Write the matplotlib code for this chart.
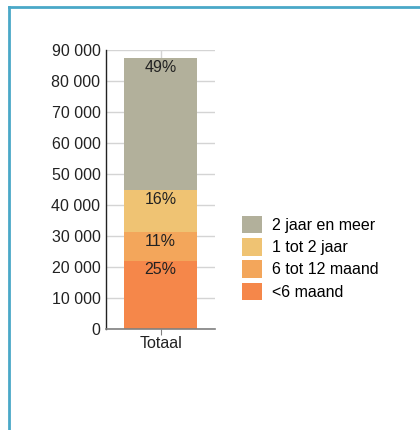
import matplotlib.pyplot as plt
from matplotlib.lines import Line2D
from matplotlib.patches import Patch
from matplotlib.ticker import FuncFormatter

plt.rcParams['font.family'] = ['Liberation Sans', 'DejaVu Sans']

# data
category = 'Totaal'
groups = ['<6 maand', '6 tot 12 maand', '1 tot 2 jaar', '2 jaar en meer']
values = [21900, 9300, 13600, 42500]
colors = ['#f5874a', '#f3a65b', '#efc373', '#b2b09b']
yticks = [0, 10000, 20000, 30000, 40000, 50000, 60000, 70000, 80000, 90000]

total = sum(values)

fig = plt.figure(figsize=(4.2, 4.3), dpi=100)
ax = fig.add_axes([106 / 420, 1 - 329 / 430, 109 / 420, 279 / 430])

bottom = 0
for val, col in zip(values, colors):
    ax.bar(0, val, bottom=bottom, width=0.67, color=col, zorder=2)
    top = bottom + val
    ax.annotate(f'{round(100 * val / total)}%', (0, top), xytext=(0, -1),
                textcoords='offset points', ha='center', va='top',
                fontsize=11.5, color='#222222', zorder=3)
    bottom = top

ax.set_xlim(-0.5, 0.5)
ax.set_ylim(0, 90000)
ax.set_yticks(yticks)
ax.yaxis.set_major_formatter(FuncFormatter(lambda v, p: f'{int(v):,}'.replace(',', ' ')))
ax.set_xticks([0])
ax.set_xticklabels([category])
ax.tick_params(axis='y', length=0, pad=4, labelsize=11.5, labelcolor='#222222')
ax.tick_params(axis='x', length=4, width=0.8, color='#808080', pad=1, labelsize=11.5,
               labelcolor='#222222')

ax.grid(True, color='#d4d4d4', lw=1, zorder=0)
ax.set_axisbelow(True)
for s in ['top', 'right']:
    ax.spines[s].set_visible(False)
ax.spines['left'].set_color('#222222')
ax.spines['left'].set_linewidth(1)
ax.spines['bottom'].set_color('#808080')
ax.spines['bottom'].set_linewidth(1.2)

handles = [Patch(facecolor=c, edgecolor='none') for c in colors][::-1]
fig.legend(handles, groups[::-1], loc='upper left',
           bbox_to_anchor=(242 / 420, 1 - 216 / 430), frameon=False,
           fontsize=11.5, handlelength=1.25, handleheight=1.3,
           handletextpad=0.6, labelspacing=0.3, borderpad=0, borderaxespad=0)

# blue frame around the panel
fig.add_artist(Line2D([9 / 420, 1], [1 - 7 / 430, 1 - 7 / 430], color='#4aa8c8', lw=2))
fig.add_artist(Line2D([9 / 420, 9 / 420], [0, 1 - 7 / 430], color='#4aa8c8', lw=2))

fig.savefig('out.png', dpi=100)
